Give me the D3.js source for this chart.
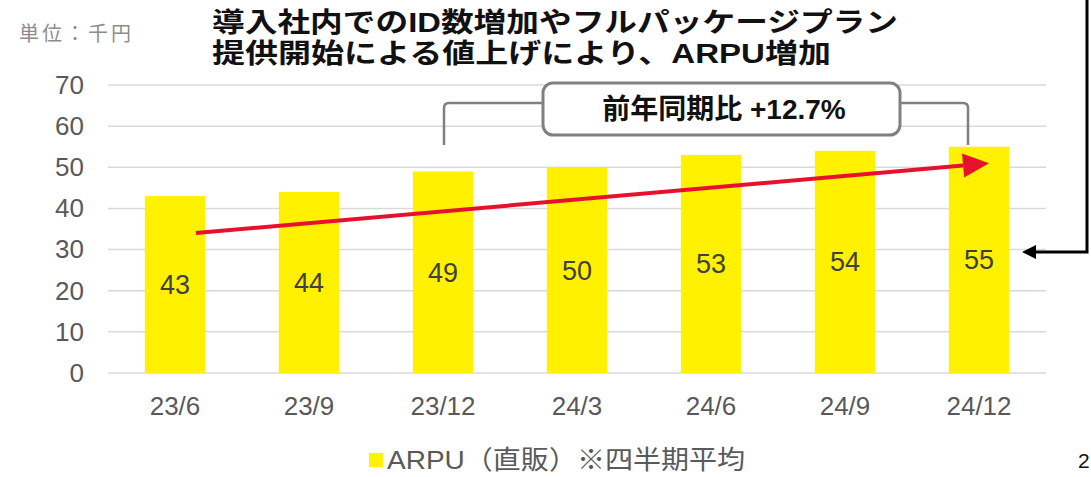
<!DOCTYPE html>
<html>
<head>
<meta charset="utf-8">
<script src="https://cdn.jsdelivr.net/npm/d3@7"></script>
<style>
  body { margin: 0; background: #fff; }
  svg { display: block; font-family: "Liberation Sans", "Noto Sans CJK JP", sans-serif; }
</style>
</head>
<body>
<svg id="chart" width="1091" height="477"></svg>
<script>
const categories = ["23/6", "23/9", "23/12", "24/3", "24/6", "24/9", "24/12"];
const arpu = [43, 44, 49, 50, 53, 54, 55];
const yTicks = [0, 10, 20, 30, 40, 50, 60, 70];
const titleLines = ["導入社内でのID数増加やフルパッケージプラン", "提供開始による値上げにより、ARPU増加"];
const calloutText = "前年同期比 +12.7%";
const unitLabel = "単位：千円";
const legendLabel = "ARPU（直販）※四半期平均";
const trendFrom = { cat: "23/6", value: 34 };
const trendTo = { cat: "24/12", value: 51 };

const svg = d3.select("#chart");
const yellow = "#fff100";
const gridColor = "#d9d9d9";

const x = d3.scaleBand()
  .domain(categories)
  .range([108, 1046])
  .paddingInner(0.55)
  .paddingOuter(0.275);

const y = d3.scaleLinear().domain([0, 70]).range([373, 85]);

// gridlines
svg.append("g")
  .selectAll("line")
  .data(yTicks)
  .join("line")
  .attr("x1", 108)
  .attr("x2", 1046)
  .attr("y1", (d) => y(d))
  .attr("y2", (d) => y(d))
  .attr("stroke", gridColor)
  .attr("stroke-width", 1.5);

// y axis
const yAxis = svg.append("g")
  .attr("transform", "translate(108,0)")
  .call(d3.axisLeft(y).tickValues(yTicks).tickSize(0).tickPadding(24));
yAxis.select(".domain").remove();
yAxis.selectAll("text")
  .attr("font-family", "Liberation Sans, Noto Sans CJK JP, sans-serif")
  .attr("font-size", 26)
  .attr("fill", "#595959");

// x axis
const xAxis = svg.append("g")
  .attr("transform", "translate(0,373)")
  .call(d3.axisBottom(x).tickSize(0).tickPadding(24));
xAxis.select(".domain").remove();
xAxis.selectAll("text")
  .attr("font-family", "Liberation Sans, Noto Sans CJK JP, sans-serif")
  .attr("font-size", 26)
  .attr("fill", "#595959");

// bars
svg.append("g")
  .selectAll("rect")
  .data(arpu)
  .join("rect")
  .attr("x", (d, i) => x(categories[i]))
  .attr("y", (d) => y(d))
  .attr("width", x.bandwidth())
  .attr("height", (d) => y(0) - y(d))
  .attr("fill", yellow);

// value labels
svg.append("g")
  .selectAll("text")
  .data(arpu)
  .join("text")
  .attr("x", (d, i) => x(categories[i]) + x.bandwidth() / 2)
  .attr("y", (d) => y(d / 2))
  .attr("dy", "0.35em")
  .attr("text-anchor", "middle")
  .attr("font-size", 27)
  .attr("fill", "#404040")
  .text((d) => d);

// red trend arrow
const x0 = x(trendFrom.cat) + x.bandwidth() / 2 + 21;
const y0 = y(trendFrom.value);
const x1 = x(trendTo.cat) + x.bandwidth() / 2 + 10;
const y1 = y(trendTo.value);
const ang = Math.atan2(y1 - y0, x1 - x0);
const headLen = 26, headHalf = 12;
const bx = x1 - headLen * Math.cos(ang), by = y1 - headLen * Math.sin(ang);
svg.append("line")
  .attr("x1", x0).attr("y1", y0)
  .attr("x2", bx).attr("y2", by)
  .attr("stroke", "#e8112d")
  .attr("stroke-width", 4);
svg.append("polygon")
  .attr("points", [
    [x1, y1],
    [bx + headHalf * Math.sin(ang), by - headHalf * Math.cos(ang)],
    [bx - headHalf * Math.sin(ang), by + headHalf * Math.cos(ang)]
  ].map((p) => p.join(",")).join(" "))
  .attr("fill", "#e8112d");

// callout brackets
const leftX = x("23/12") + x.bandwidth() / 2 + 1;
const rightX = x("24/12") + x.bandwidth() / 2 - 11;
svg.append("path")
  .attr("d", `M${leftX},145 L${leftX},108 Q${leftX},103 ${leftX + 5},103 L543,103`)
  .attr("fill", "none")
  .attr("stroke", "#808080")
  .attr("stroke-width", 2.5);
svg.append("path")
  .attr("d", `M900,103 L${rightX - 5},103 Q${rightX},103 ${rightX},108 L${rightX},145`)
  .attr("fill", "none")
  .attr("stroke", "#808080")
  .attr("stroke-width", 2.5);

// callout box
svg.append("rect")
  .attr("x", 543).attr("y", 83)
  .attr("width", 357).attr("height", 52)
  .attr("rx", 10)
  .attr("fill", "#fff")
  .attr("stroke", "#808080")
  .attr("stroke-width", 3);
svg.append("text")
  .attr("x", 724).attr("y", 119)
  .attr("text-anchor", "middle")
  .attr("font-size", 28)
  .attr("font-weight", "bold")
  .attr("fill", "#111")
  .text(calloutText);

// black arrow from the right edge
svg.append("path")
  .attr("d", "M1087,0 L1087,252 L1034,252")
  .attr("fill", "none")
  .attr("stroke", "#000")
  .attr("stroke-width", 3);
svg.append("polygon")
  .attr("points", "1022,252 1036,245 1036,259")
  .attr("fill", "#000");

// title
svg.append("g")
  .selectAll("text")
  .data(titleLines)
  .join("text")
  .attr("x", 212)
  .attr("y", (d, i) => 32 + i * 31)
  .attr("font-size", 27)
  .attr("font-weight", "bold")
  .attr("fill", "#111")
  .attr("textLength", (d, i) => (i === 0 ? 686 : 619))
  .attr("lengthAdjust", "spacingAndGlyphs")
  .text((d) => d);

// unit label
svg.append("text")
  .attr("x", 19).attr("y", 41)
  .attr("font-size", 20)
  .attr("fill", "#8c8c8c")
  .attr("textLength", 112)
  .text(unitLabel);

// legend
svg.append("rect")
  .attr("x", 369).attr("y", 453)
  .attr("width", 14).attr("height", 14)
  .attr("fill", yellow);
svg.append("text")
  .attr("x", 387).attr("y", 469)
  .attr("font-size", 26)
  .attr("fill", "#595959")
  .attr("textLength", 358)
  .attr("lengthAdjust", "spacingAndGlyphs")
  .text(legendLabel);

// page number
svg.append("text")
  .attr("x", 1078).attr("y", 468)
  .attr("font-size", 21)
  .attr("fill", "#111")
  .text("2");
</script>
</body>
</html>
